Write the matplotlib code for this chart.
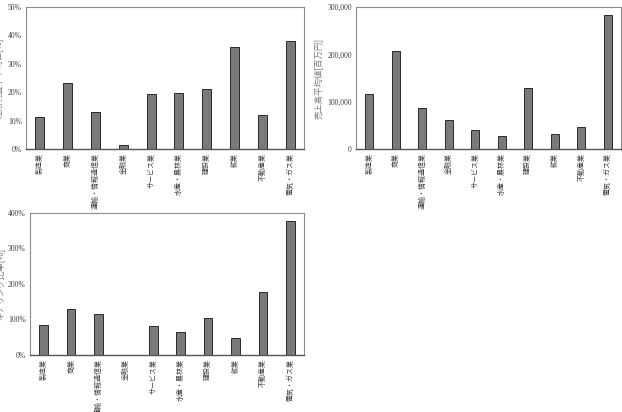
import numpy as np
import matplotlib.pyplot as plt
from matplotlib.ticker import FuncFormatter

plt.rcParams['font.family'] = ['Noto Sans CJK JP', 'DejaVu Sans']

industries = ["製造業", "商業", "運輸・情報通信業", "金融業", "サービス業",
              "水産・農林業", "建設業", "鉱業", "不動産業", "電気・ガス業"]

profit_rate = [11.2, 23.2, 12.9, 1.5, 19.4, 19.6, 21.1, 35.9, 12.0, 38.2]
sales_mean = [116500, 207500, 86800, 60700, 40900, 28200, 129900, 31000, 46600, 282400]
gearing = [83.8, 129, 116.7, 0, 82, 64, 105.4, 48, 177, 378]

fig = plt.figure(figsize=(6.22, 4.12), dpi=100)

num_font = {'family': 'Liberation Serif', 'size': 5.5}


def draw(rect, values, ylim, step, ylabel, fmt):
    ax = fig.add_axes(rect)
    x = np.arange(len(industries))
    ax.bar(x, values, width=0.32, color="#7a7a7a", edgecolor="#2a2a2a", linewidth=0.7)
    ax.set_xlim(-0.5, len(industries) - 0.5)
    ax.set_ylim(0, ylim)
    ax.set_yticks(np.arange(0, ylim + step / 2, step))
    ax.yaxis.set_major_formatter(FuncFormatter(fmt))
    for lbl in ax.get_yticklabels():
        lbl.set_fontfamily('Liberation Serif')
        lbl.set_fontsize(5.5)
        lbl.set_color("#404040")
    ax.set_xticks(x)
    ax.set_xticklabels(industries, rotation=90, fontsize=5, color="#404040")
    ax.tick_params(length=0, pad=3)
    for s in ["top", "right", "left"]:
        ax.spines[s].set_color("#8c8c8c")
        ax.spines[s].set_linewidth(0.8)
    ax.spines["bottom"].set_color("#555555")
    ax.spines["bottom"].set_linewidth(1.0)
    ax.set_ylabel(ylabel, fontsize=6, color="#7a7a7a", labelpad=3)
    return ax


pct = lambda v, p: f"{int(round(v))}%"
comma = lambda v, p: f"{int(v):,}"

# rects in figure fractions (x0, y0, w, h)
draw([26 / 622, 1 - 149 / 412, 278 / 622, 142 / 412], profit_rate, 50, 10,
     "経常利益率平均値[%]", pct)
draw([356 / 622, 1 - 149 / 412, 265 / 622, 142 / 412], sales_mean, 300000, 100000,
     "売上高平均値[百万円]", comma)
draw([30 / 622, 1 - 355 / 412, 274 / 622, 142 / 412], gearing, 400, 100,
     "ギアリング比率[%]", pct)

fig.savefig("out.png", dpi=100)
